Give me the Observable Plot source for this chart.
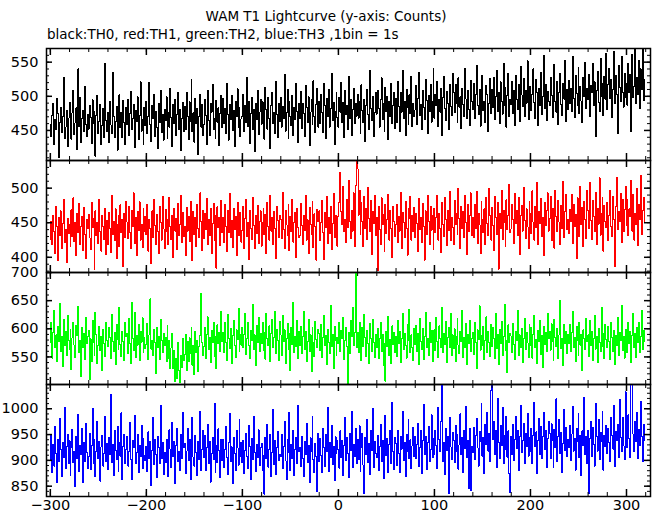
<!DOCTYPE html>
<html><head><meta charset="utf-8">
<script src="https://cdn.jsdelivr.net/npm/d3@7"></script>
<script src="https://cdn.jsdelivr.net/npm/@observablehq/plot@0.6"></script>
<style>
body{margin:0;background:#fff;}
#wrap{position:relative;width:652px;height:515px;background:#fff;font-family:"DejaVu Sans",sans-serif;color:#000;overflow:hidden;}
#title{position:absolute;left:0;top:9px;width:652px;text-align:center;font-size:13.5px;line-height:15px;}
#sub{position:absolute;left:47px;top:27px;font-size:13.5px;line-height:15px;white-space:pre;}
.panel{position:absolute;left:0;}
</style></head><body>
<div id="wrap"><div id="title">WAM T1 Lightcurve (y-axis: Counts)</div><div id="sub">black:TH0, red:TH1, green:TH2, blue:TH3 ,1bin = 1s</div></div>
<script>
// time of first bin (s), bin size 1 s
const t0 = -300;
const binSize = 1;

const TH0 = [
458,441,472,489,430,466,451,497,475,410,462,484,447,470,528,438,455,479,426,468,
491,452,437,476,509,444,461,483,422,540,456,498,433,467,479,448,515,459,441,474,
452,487,469,431,495,460,478,412,472,501,446,463,488,429,457,482,440,548,465,449,
476,433,492,458,446,535,471,439,463,485,421,469,502,454,477,440,494,461,429,483,
458,496,442,475,507,451,468,488,425,479,463,499,437,472,521,449,466,430,484,457,
493,445,471,520,459,434,486,467,502,441,478,455,423,490,462,509,447,474,436,481,
464,499,438,477,455,512,469,427,488,460,495,443,474,506,452,481,420,467,491,449,
485,451,506,470,437,492,463,524,448,476,433,497,460,482,415,471,503,455,488,442,
459,496,472,430,508,465,443,489,477,517,451,468,438,494,462,483,428,475,501,454,
497,460,482,445,519,473,436,488,466,501,450,479,427,492,470,511,455,484,441,467,
471,503,448,486,462,527,456,493,431,475,498,452,480,419,489,466,508,444,477,495,
459,492,470,437,513,481,452,498,467,424,487,505,460,476,445,521,473,439,490,463,
498,455,485,467,532,449,476,510,438,493,470,457,501,442,484,466,519,478,433,489,
468,507,453,490,475,441,516,484,462,499,428,477,495,459,523,470,447,488,511,455,
492,460,503,476,447,519,486,438,497,471,510,455,482,533,464,491,429,478,506,469,
455,498,477,520,462,491,439,508,474,486,452,529,467,495,443,481,512,460,489,471,
503,468,492,445,517,479,461,496,434,487,510,473,452,538,482,465,499,441,476,505,
474,509,482,455,495,527,466,489,448,513,478,500,437,492,471,519,460,486,505,453,
497,462,521,485,449,506,477,538,468,492,443,510,483,459,502,475,529,456,490,471,
480,516,459,497,535,472,488,451,509,483,466,524,494,445,501,478,517,462,493,540,
468,503,487,522,456,495,477,511,443,498,529,482,464,507,490,451,518,485,472,533,
505,476,518,490,461,527,484,499,453,512,488,470,541,496,467,509,480,457,523,493,
481,519,468,502,545,487,473,510,456,497,531,479,492,462,516,503,448,489,526,475,
510,483,527,466,499,538,478,505,460,521,492,474,548,487,513,455,501,533,470,496,
488,522,475,509,457,531,496,480,517,463,544,502,485,526,471,508,490,552,466,499,
515,479,503,540,491,468,524,506,457,511,487,535,473,499,560,482,518,464,507,493,
486,528,501,469,514,547,492,477,522,458,505,533,488,472,519,496,553,463,510,481,
523,490,512,478,558,497,469,531,504,486,542,475,515,493,461,527,500,549,482,511,
495,532,470,516,506,548,487,521,441,509,537,491,478,556,500,519,472,529,496,563,
481,518,541,497,525,469,510,566,489,530,502,445,545,513,492,559,506,484,534,498,
519,487,548,506,532,448,561,498,515,571,490,527,503,553,482,540,510,576,494,525
];

const TH1 = [
426,452,418,461,437,405,473,444,396,458,431,467,412,449,483,421,440,392,456,434,
447,415,469,430,486,423,451,402,464,436,478,419,445,459,410,472,433,398,455,441,
462,428,411,479,443,456,382,467,431,450,420,484,437,409,461,445,426,471,404,453,
418,465,442,407,489,433,452,424,470,398,447,461,415,476,436,455,387,463,429,481,
451,427,474,436,412,468,445,493,420,457,403,466,439,480,425,448,414,471,438,459,
433,476,409,455,442,391,467,428,484,446,419,462,437,405,473,450,425,488,441,413,
469,437,454,418,487,444,426,461,399,471,438,456,411,478,432,447,490,421,465,430,
445,402,472,438,459,423,481,449,395,466,433,457,415,476,441,428,493,452,410,468,
427,463,440,485,418,455,432,470,406,449,478,424,461,384,473,443,458,417,482,436,
458,421,476,445,409,467,436,492,428,453,414,471,440,459,403,479,431,448,465,422,
439,474,413,456,483,430,451,397,468,442,425,487,446,412,460,434,475,420,452,467,
416,450,471,433,462,405,479,444,425,489,438,457,419,466,441,398,474,453,429,461,
455,427,494,440,413,468,447,431,476,410,459,437,484,422,450,465,400,471,443,429,
432,478,446,418,461,439,490,425,454,406,472,448,433,481,414,463,445,396,469,452,
467,424,451,482,436,397,465,443,488,420,457,434,474,411,449,492,428,461,440,416,
459,479,523,466,448,502,437,455,421,484,443,511,452,427,468,438,493,415,504,542,
528,461,497,433,479,452,415,488,442,470,426,501,456,437,482,404,466,449,490,431,
458,381,473,440,419,486,447,462,408,477,434,455,491,425,468,441,399,474,452,430,
447,476,421,459,438,494,413,465,450,429,481,442,403,470,456,488,425,461,437,472,
428,463,449,409,485,440,457,421,478,445,396,467,433,490,452,418,474,439,461,411,
471,436,458,490,425,463,441,407,479,448,430,486,455,417,468,439,495,424,457,443,
419,482,447,463,433,500,456,412,474,441,466,428,489,450,404,477,438,460,493,431,
458,429,476,441,495,420,463,447,405,481,454,436,470,418,487,449,432,499,461,425,
472,446,410,488,457,433,479,383,464,442,497,426,468,451,415,483,440,461,505,436,
441,477,455,420,492,449,468,431,486,404,460,475,438,501,453,427,470,444,412,481,
463,434,496,451,425,474,443,508,418,466,449,485,430,457,402,479,446,467,493,438,
456,488,424,471,446,413,497,459,437,482,451,419,475,442,509,428,466,491,440,454,
434,469,452,491,420,477,445,462,398,486,458,430,503,447,472,415,481,455,427,496,
467,441,508,453,426,482,459,437,494,418,471,448,515,432,463,487,409,475,452,443,
479,424,461,497,445,430,488,455,386,473,516,440,466,452,492,421,484,437,469,503,
446,483,431,470,459,511,438,491,425,464,448,499,417,476,455,519,433,467,486,452
];

const TH2 = [
575,611,548,593,632,566,589,541,604,578,645,559,586,533,617,571,596,552,624,580,
563,598,527,584,612,571,549,606,588,640,557,579,515,602,566,591,545,620,574,586,
597,509,582,541,615,576,553,629,589,538,571,604,562,586,525,598,574,551,612,580,
568,603,584,547,625,577,559,593,536,608,581,564,638,572,550,596,578,543,611,587,
591,556,618,574,538,646,583,562,629,549,588,571,607,543,595,576,620,557,584,565,
572,609,546,589,653,564,580,553,598,575,521,603,567,587,545,616,579,558,592,570,
585,541,606,547,579,530,566,592,529,561,507,548,512,575,526,505,553,531,582,544,
555,590,526,577,541,584,556,603,535,571,518,596,557,580,524,568,588,662,575,552,
568,602,547,589,621,563,584,540,597,575,612,551,586,529,607,573,594,559,631,578,
594,557,611,576,543,626,582,565,601,538,588,615,570,549,598,581,636,560,589,571,
603,566,590,627,555,582,612,571,548,597,580,643,563,589,534,606,575,620,559,592,
574,611,562,594,546,628,583,570,605,541,592,617,567,585,630,556,599,579,544,613,
589,553,624,577,598,538,582,610,564,591,526,603,572,646,558,587,569,615,547,596,
570,604,556,587,631,563,596,541,578,617,560,589,524,602,575,550,613,581,566,598,
591,562,607,549,584,623,571,588,537,599,576,556,642,568,590,529,604,579,553,585,
574,611,560,597,583,620,545,579,602,568,503,593,556,615,587,638,571,594,700,566,
594,557,612,578,543,603,569,625,585,551,597,573,538,609,582,560,617,576,549,590,
566,601,547,583,612,560,590,535,574,507,596,568,622,553,581,539,605,572,594,558,
587,551,614,573,596,540,583,627,563,592,571,548,608,579,635,557,589,566,544,601,
572,606,559,591,537,618,578,563,600,545,587,629,566,583,552,612,575,597,541,586,
598,561,620,577,549,605,583,566,638,558,591,572,613,540,585,602,567,627,553,589,
565,600,542,587,619,571,556,596,578,632,549,584,567,609,537,590,574,615,559,582,
593,554,612,575,530,598,581,641,562,588,571,604,545,579,621,558,596,576,550,607,
569,603,582,547,627,565,590,536,598,574,613,553,586,644,561,580,522,607,575,592,
587,558,610,572,545,596,579,633,552,589,567,601,540,583,618,563,594,575,549,608,
571,602,548,590,624,566,581,538,597,577,615,555,588,531,604,572,593,559,628,583,
596,562,609,578,543,617,584,568,600,547,589,650,565,582,535,607,574,596,556,590,
574,608,559,593,630,567,585,541,604,579,553,612,571,590,525,598,583,563,619,577,
589,551,615,570,596,543,582,623,564,587,540,601,576,559,638,568,592,547,607,581,
567,604,578,546,612,585,560,597,536,588,571,620,553,593,579,642,561,586,548,599,
582,558,611,574,595,540,588,627,566,591,549,603,575,612,557,586,632,563,597,578
];

const TH3 = [
902,948,876,931,889,965,913,857,940,897,981,921,868,935,906,1002,884,927,951,893,
938,871,924,960,895,917,849,946,903,989,879,928,912,961,857,935,898,972,916,884,
907,953,882,929,1001,894,941,868,918,975,903,937,860,926,949,889,914,985,897,932,
883,944,911,1027,896,930,871,958,919,902,966,879,935,908,992,863,927,950,894,921,
946,889,917,973,901,862,938,924,987,893,915,951,876,929,907,968,884,942,910,899,
927,878,955,904,936,851,919,983,892,940,911,867,947,925,893,1006,903,934,872,916,
895,941,913,868,959,922,886,974,908,937,855,929,961,897,918,881,950,904,992,925,
932,874,918,962,899,941,863,927,983,906,889,948,915,871,936,902,995,880,922,957,
906,949,881,925,970,893,937,858,914,944,902,1011,877,928,895,961,919,866,940,899,
941,887,922,966,905,873,934,991,898,926,856,945,913,880,958,924,891,979,907,935,
896,938,874,920,953,907,884,967,926,862,943,901,985,915,878,931,906,959,890,924,
933,881,910,834,945,904,969,887,922,950,869,916,999,892,938,873,925,956,899,911,
908,951,885,927,976,899,862,940,915,993,880,931,904,958,871,922,945,893,1006,917,
925,889,947,903,868,936,911,972,896,929,857,944,918,985,901,876,933,907,839,952,
897,943,910,876,962,925,888,951,918,1003,879,934,906,968,892,927,861,946,913,938,
921,885,957,906,939,871,928,984,899,945,913,866,952,920,994,887,931,908,962,893,
940,902,967,878,925,953,891,836,944,911,979,896,932,873,958,919,1001,887,936,914,
905,948,881,926,970,897,939,864,920,987,909,942,876,931,958,894,1012,918,883,945,
932,891,958,913,876,946,922,995,899,935,868,951,917,979,903,940,884,928,963,907,
947,903,930,971,889,925,958,874,939,1008,911,946,882,934,966,898,921,988,905,942,
911,958,929,884,1003,941,918,975,1052,897,935,872,962,919,947,835,983,926,901,954,
939,896,968,917,951,883,930,990,912,944,877,958,923,1004,905,938,846,962,841,927,
915,963,902,948,981,924,889,956,937,1010,908,945,874,969,931,993,918,952,897,1036,
1055,941,976,912,958,887,1020,934,903,967,928,1002,893,949,921,985,906,957,874,838,
946,912,970,899,941,985,923,958,881,947,1006,916,938,972,894,953,927,991,908,944,
917,962,893,949,1013,926,955,874,938,981,911,966,903,947,992,921,958,886,943,975,
952,904,971,938,886,960,925,1019,897,946,979,913,954,876,932,998,919,963,907,941,
924,967,899,951,1004,918,943,881,962,936,990,905,948,871,957,929,1022,911,946,893,
957,836,942,975,908,963,931,889,1011,947,918,980,902,954,937,995,881,949,926,968,
913,961,934,897,984,948,922,1007,889,956,939,970,906,1018,944,917,983,928,901,1033,
962,925,988,943,906,1058,1049,951,918,975,937,992,903,960,929,1014,946,897,969,938
];

const seriesNames = ["TH0", "TH1", "TH2", "TH3"];
const seriesColors = ["#000000", "#ff0000", "#00ff00", "#0000ff"];
const yDomains = [[406, 570], [378, 540], [501, 700], [830, 1047]];
const yTickLabels = [[450, 500, 550], [400, 450, 500], [550, 600, 650, 700], [850, 900, 950, 1000]];
const xTickLabels = [-300, -200, -100, 0, 100, 200, 300];
const xDomain = [-304, 325];

const allValues = [TH0, TH1, TH2, TH3];
const W = 652, ML = 46, MR = 2, FH = 112, PAD = 6, FIRST_TOP = 48;
const IW = W - ML - MR;
const xMinor = d3.range(-300, 321, 20);
const wrap = document.getElementById("wrap");

allValues.forEach((vals, i) => {
  const last = i === allValues.length - 1;
  const mb = last ? 20 : PAD;
  const [y0, y1] = yDomains[i];
  const yMinor = d3.range(Math.ceil(y0 / 10) * 10, y1 + 0.001, 10);
  const data = vals.map((v, k) => ({t: t0 + k * binSize, v}));
  const chart = Plot.plot({
    width: W, height: FH + PAD + mb,
    marginLeft: ML, marginRight: MR, marginTop: PAD, marginBottom: mb,
    style: {fontFamily: "DejaVu Sans, sans-serif", fontSize: "14.5px", background: "transparent", overflow: "visible", color: "#000"},
    x: last ? {domain: xDomain, ticks: xTickLabels, tickSize: 0, tickPadding: 3, label: null}
            : {domain: xDomain, axis: null},
    y: {domain: yDomains[i], ticks: yTickLabels[i], tickFormat: d => String(d), tickSize: 0, tickPadding: 8, label: null},
    marks: [
      Plot.line(data, {x: "t", y: "v", stroke: seriesColors[i], strokeWidth: 1, curve: "step", clip: true, shapeRendering: "crispEdges"}),
      // y ticks, inward, left and right
      Plot.tickY(yMinor, {y: d => d, stroke: "#000", insetRight: IW - 3}),
      Plot.tickY(yMinor, {y: d => d, stroke: "#000", insetLeft: IW - 3}),
      Plot.tickY(yTickLabels[i], {y: d => d, stroke: "#000", strokeWidth: 1.5, insetRight: IW - 6}),
      Plot.tickY(yTickLabels[i], {y: d => d, stroke: "#000", strokeWidth: 1.5, insetLeft: IW - 6}),
      // x ticks, inward, top and bottom
      Plot.tickX(xMinor, {x: d => d, stroke: "#000", insetBottom: FH - 4}),
      Plot.tickX(xMinor, {x: d => d, stroke: "#000", insetTop: FH - 4}),
      Plot.tickX(xTickLabels, {x: d => d, stroke: "#000", strokeWidth: 1.5, insetBottom: FH - 7}),
      Plot.tickX(xTickLabels, {x: d => d, stroke: "#000", strokeWidth: 1.5, insetTop: FH - 7}),
      Plot.frame({stroke: "#000", strokeWidth: 1.5})
    ]
  });
  chart.classList.add("panel");
  chart.style.top = (FIRST_TOP + i * FH - PAD) + "px";
  chart.setAttribute("aria-label", seriesNames[i]);
  wrap.appendChild(chart);
});
</script>
</body></html>
